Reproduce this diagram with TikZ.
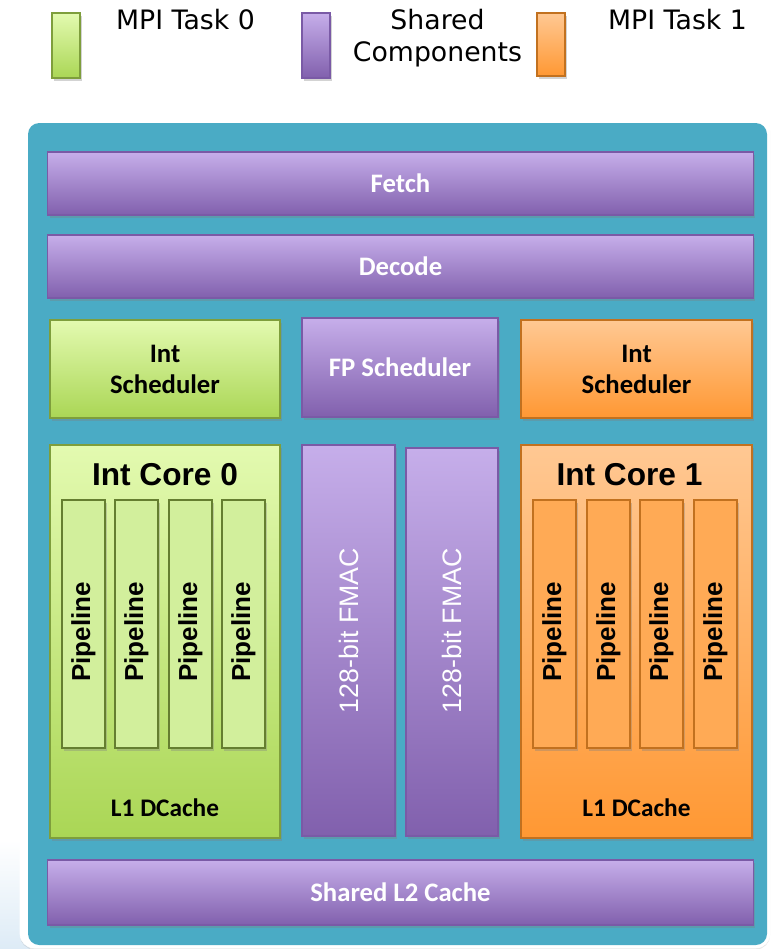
\documentclass[tikz,border=0pt]{standalone}
\usepackage{fontspec}
\setmainfont{Carlito}
\newfontfamily\arialfont{Liberation Sans}
\newfontfamily\legendfont{DejaVu Sans}
\usetikzlibrary{positioning}
\usetikzlibrary{shadows}
\usetikzlibrary{fadings}

\definecolor{panelblue}{HTML}{4AABC5}
\definecolor{purpletop}{HTML}{C6AEEA}
\definecolor{purplebot}{HTML}{8160AD}
\definecolor{purpleline}{HTML}{7A5AA6}
\definecolor{greentop}{HTML}{E3FAB0}
\definecolor{greenbot}{HTML}{AAD655}
\definecolor{greenline}{HTML}{7E9E3C}
\definecolor{greenpipe}{HTML}{D2EF9C}
\definecolor{orangetop}{HTML}{FFC893}
\definecolor{orangebot}{HTML}{FF9833}
\definecolor{orangeline}{HTML}{C2711F}
\definecolor{orangepipe}{HTML}{FFAA55}
\definecolor{paletint}{HTML}{DDEBF6}

\begin{document}
\begin{tikzpicture}[
        x = 0.025cm, y = -0.025cm,
        blk/.style = {
            draw,
            line width = 0.8pt,
            inner sep = 0pt,
            drop shadow = {shadow xshift=1.5pt, shadow yshift=-2pt, opacity=0.35}
        },
        shared/.style = {blk, draw=purpleline, top color=purpletop, bottom color=purplebot, text=white},
        task0/.style = {blk, draw=greenline, top color=greentop, bottom color=greenbot},
        task1/.style = {blk, draw=orangeline, top color=orangetop, bottom color=orangebot},
        pipe0/.style = {blk, draw=greenline!80!black, fill=greenpipe,
            minimum width=1.075cm, minimum height=6.2cm},
        pipe1/.style = {blk, draw=orangeline, fill=orangepipe,
            minimum width=1.075cm, minimum height=6.2cm},
        lbl/.style = {font=\fontsize{19}{22}\selectfont\bfseries, align=center},
        coretitle/.style = {font=\arialfont\fontsize{22.5}{26}\selectfont\bfseries},
        pipetext/.style = {font=\arialfont\fontsize{18.5}{20}\selectfont\bfseries},
        fmactext/.style = {font=\arialfont\fontsize{19}{21}\selectfont},
        legend/.style = {font=\legendfont\fontsize{19}{23}\selectfont, align=center}
        ]
\useasboundingbox (0,0) rectangle (771,949);
%
% legend
        \node[task0, minimum width=0.7cm, minimum height=1.625cm] (key0) at (66,45.5) {};
        \node[shared, minimum width=0.7cm, minimum height=1.625cm] (keyS) at (316,45.5) {};
        \node[task1, minimum width=0.7cm, minimum height=1.575cm] (key1) at (551,44.5) {};
        \node[legend, anchor=north] (key0text) at (185.5,4) {MPI Task 0};
        \node[legend, anchor=north] (keyStext) at (437.5,4) {Shared\\Components};
        \node[legend, anchor=north] (key1text) at (677.5,4) {MPI Task 1};
%
% chip panel
        \fill[paletint, path fading=north] (0,840) rectangle (30,949);
        \draw[white, fill=white, rounded corners=10pt,
              drop shadow={shadow xshift=0pt, shadow yshift=-1pt, opacity=0.2}] (20,115) rectangle (770,948);
        \fill[panelblue, rounded corners=8pt] (28,123) rectangle (767,945);
%
        \node[shared, lbl, minimum width=17.625cm, minimum height=1.575cm] (fetch) at (400.5,183.5) {Fetch};
        \node[shared, lbl, minimum width=17.625cm, minimum height=1.575cm] (decode) at (400.5,266.5) {Decode};
%
        \node[task0, lbl, minimum width=5.75cm, minimum height=2.45cm] (sched0) at (165,369) {Int\\Scheduler};
        \node[shared, lbl, minimum width=4.9cm, minimum height=2.475cm] (fpsched) at (400,367.5) {FP Scheduler};
        \node[task1, lbl, minimum width=5.775cm, minimum height=2.45cm] (sched1) at (636.5,369) {Int\\Scheduler};
%
        \node[task0, minimum width=5.75cm, minimum height=9.825cm] (core0) at (165,641.5) {};
        \node[task1, minimum width=5.775cm, minimum height=9.825cm] (core1) at (636.5,641.5) {};
        \node[coretitle, below=10pt of core0.north] (core0title) {Int Core 0};
        \node[coretitle, below=10pt of core1.north, xshift=-5pt] (core1title) {Int Core 1};
        \node[lbl, font=\fontsize{18}{20}\selectfont\bfseries, above=12pt of core0.south] (cache0) {L1 DCache};
        \node[lbl, font=\fontsize{18}{20}\selectfont\bfseries, above=12pt of core1.south] (cache1) {L1 DCache};
%
        \foreach \px [count=\i] in {83.5,136.5,190.5,243.5}
            \node[pipe0, pipetext] (pipe0\i) at (\px,624) {\rotatebox{90}{Pipeline\hspace*{11pt}}};
        \foreach \px [count=\i] in {554.5,608.5,661.5,715.5}
            \node[pipe1, pipetext] (pipe1\i) at (\px,624) {\rotatebox{90}{Pipeline\hspace*{11pt}}};
%
        \node[shared, fmactext, minimum width=2.325cm, minimum height=9.775cm] (fmac0) at (348.5,640.5) {\rotatebox{90}{\hspace*{14pt}128-bit FMAC}};
        \node[shared, fmactext, minimum width=2.3cm, minimum height=9.7cm] (fmac1) at (452,642) {\rotatebox{90}{\hspace*{16pt}128-bit FMAC}};
%
        \node[shared, lbl, minimum width=17.625cm, minimum height=1.625cm] (l2) at (400.5,892.5) {Shared L2 Cache};
\end{tikzpicture}
\end{document}
